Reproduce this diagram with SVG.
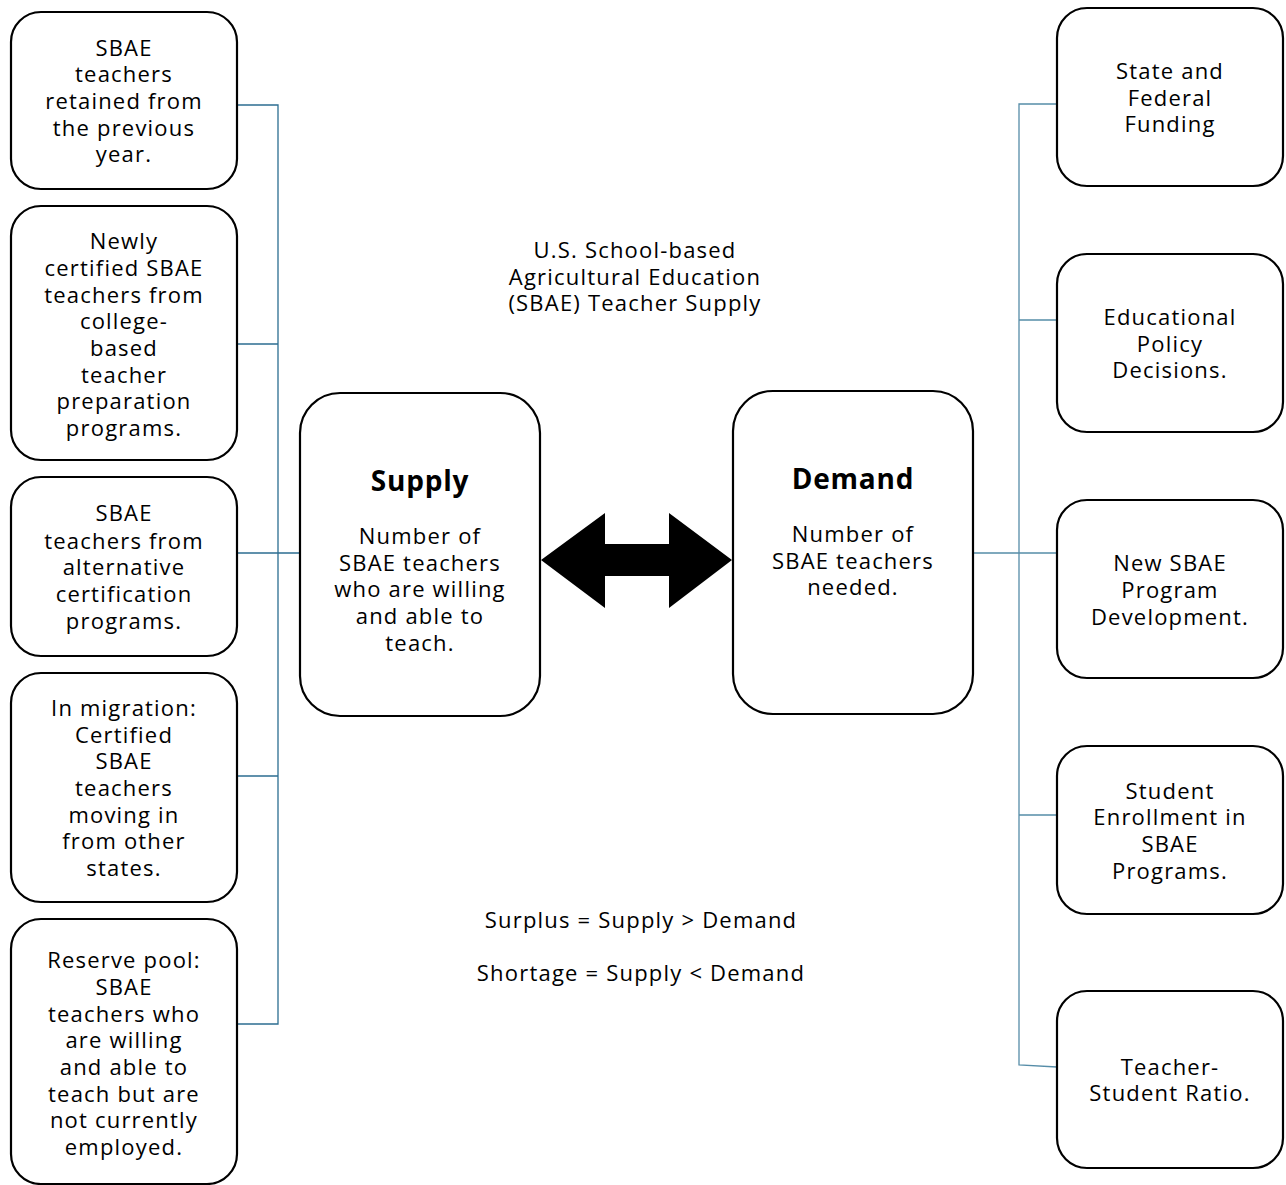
<svg xmlns="http://www.w3.org/2000/svg" width="1286" height="1185" viewBox="0 0 1286 1185">
<style>
.box{fill:#fff;stroke:#000;stroke-width:2.2}
.t{font-family:"Open Sans","Liberation Sans",sans-serif;font-size:22px;letter-spacing:1.2px;fill:#000;text-anchor:middle}
.h{font-family:"Open Sans","Liberation Sans",sans-serif;font-size:28px;font-weight:bold;letter-spacing:0.8px;fill:#000;text-anchor:middle}
.cl{fill:none;stroke:#2C6E91;stroke-width:1.3}
.cr{fill:none;stroke:#568DA8;stroke-width:1.3}
</style>
<rect width="1286" height="1185" fill="#fff"/>
<g id="connectors">
<path class="cl" d="M237 105H278V1024H237M237 344H278M237 553H300M237 776H278"/>
<path class="cr" d="M1057 104H1019V1065L1057 1067M1019 320H1057M973 553H1057M1019 815H1057"/>
<polygon id="double-arrow" points="541,560 605,513 605,544 669,544 669,513 732,560 669,608 669,576 605,576 605,608" fill="#000"/>
</g>
<g id="title"><text class="t" x="635" y="258">U.S. School-based</text><text class="t" x="635" y="285">Agricultural Education</text><text class="t" x="635" y="311">(SBAE) Teacher Supply</text></g>
<g id="n-retained"><rect class="box" x="11" y="12" width="226" height="177" rx="30"/>
<text class="t" x="124" y="56">SBAE</text><text class="t" x="124" y="82">teachers</text><text class="t" x="124" y="109">retained from</text><text class="t" x="124" y="136">the previous</text><text class="t" x="124" y="162">year.</text></g>
<g id="n-newly"><rect class="box" x="11" y="206" width="226" height="254" rx="30"/>
<text class="t" x="124" y="249">Newly</text><text class="t" x="124" y="276">certified SBAE</text><text class="t" x="124" y="303">teachers from</text><text class="t" x="124" y="329">college-</text><text class="t" x="124" y="356">based</text><text class="t" x="124" y="383">teacher</text><text class="t" x="124" y="409">preparation</text><text class="t" x="124" y="436">programs.</text></g>
<g id="n-alternative"><rect class="box" x="11" y="477" width="226" height="179" rx="30"/>
<text class="t" x="124" y="521">SBAE</text><text class="t" x="124" y="549">teachers from</text><text class="t" x="124" y="575">alternative</text><text class="t" x="124" y="602">certification</text><text class="t" x="124" y="629">programs.</text></g>
<g id="n-migration"><rect class="box" x="11" y="673" width="226" height="229" rx="30"/>
<text class="t" x="124" y="716">In migration:</text><text class="t" x="124" y="743">Certified</text><text class="t" x="124" y="769">SBAE</text><text class="t" x="124" y="796">teachers</text><text class="t" x="124" y="823">moving in</text><text class="t" x="124" y="849">from other</text><text class="t" x="124" y="876">states.</text></g>
<g id="n-reserve"><rect class="box" x="11" y="919" width="226" height="265" rx="30"/>
<text class="t" x="124" y="968">Reserve pool:</text><text class="t" x="124" y="995">SBAE</text><text class="t" x="124" y="1022">teachers who</text><text class="t" x="124" y="1048">are willing</text><text class="t" x="124" y="1075">and able to</text><text class="t" x="124" y="1102">teach but are</text><text class="t" x="124" y="1128">not currently</text><text class="t" x="124" y="1155">employed.</text></g>
<g id="n-supply"><rect class="box" x="300" y="393" width="240" height="323" rx="40"/>
<text class="h" x="420" y="491">Supply</text>
<text class="t" x="420" y="544">Number of</text><text class="t" x="420" y="571">SBAE teachers</text><text class="t" x="420" y="597">who are willing</text><text class="t" x="420" y="624">and able to</text><text class="t" x="420" y="651">teach.</text></g>
<g id="n-demand"><rect class="box" x="733" y="391" width="240" height="323" rx="40"/>
<text class="h" x="853" y="489">Demand</text>
<text class="t" x="853" y="542">Number of</text><text class="t" x="853" y="569">SBAE teachers</text><text class="t" x="853" y="595">needed.</text></g>
<g id="n-funding"><rect class="box" x="1057" y="8" width="226" height="178" rx="30"/>
<text class="t" x="1170" y="79">State and</text><text class="t" x="1170" y="106">Federal</text><text class="t" x="1170" y="132">Funding</text></g>
<g id="n-policy"><rect class="box" x="1057" y="254" width="226" height="178" rx="30"/>
<text class="t" x="1170" y="325">Educational</text><text class="t" x="1170" y="352">Policy</text><text class="t" x="1170" y="378">Decisions.</text></g>
<g id="n-program"><rect class="box" x="1057" y="500" width="226" height="178" rx="30"/>
<text class="t" x="1170" y="571">New SBAE</text><text class="t" x="1170" y="598">Program</text><text class="t" x="1170" y="625">Development.</text></g>
<g id="n-enrollment"><rect class="box" x="1057" y="746" width="226" height="168" rx="30"/>
<text class="t" x="1170" y="799">Student</text><text class="t" x="1170" y="825">Enrollment in</text><text class="t" x="1170" y="852">SBAE</text><text class="t" x="1170" y="879">Programs.</text></g>
<g id="n-ratio"><rect class="box" x="1057" y="991" width="226" height="177" rx="30"/>
<text class="t" x="1170" y="1075">Teacher-</text><text class="t" x="1170" y="1101">Student Ratio.</text></g>
<g id="equations"><text class="t" x="641" y="928">Surplus = Supply &gt; Demand</text><text class="t" x="641" y="981">Shortage = Supply &lt; Demand</text></g>
</svg>
